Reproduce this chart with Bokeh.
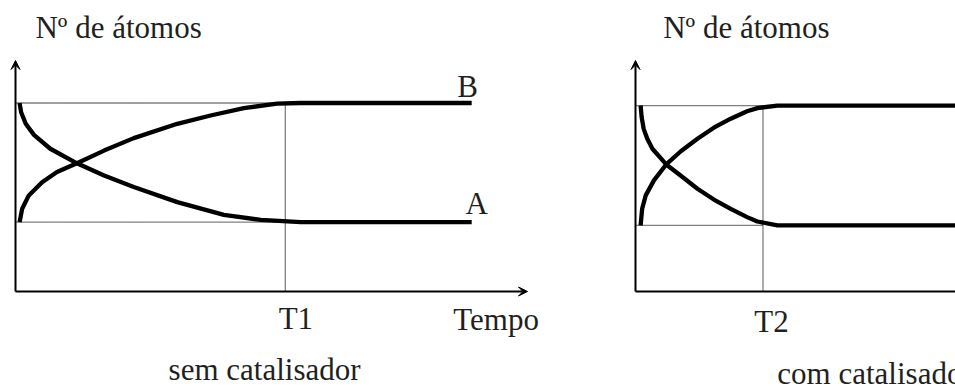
from bokeh.plotting import figure
from bokeh.layouts import row
from bokeh.models import Range1d, Arrow, VeeHead, Label
from bokeh.embed import file_html
from bokeh.resources import INLINE

# ---------------- data ----------------
# left panel: "sem catalisador"
tB1 = [0.8, 1.3, 2.6, 5.2, 8.1, 12.0, 17.3, 23.1, 31.6, 38.1, 44.6, 51.1, 55.7, 89.1]
nB1 = [30.0, 35.8, 41.6, 47.3, 51.7, 55.5, 61.0, 66.4, 72.6, 76.2, 79.4, 81.3, 81.6, 81.6]
tA1 = [0.8, 1.1, 2.0, 3.6, 6.8, 12.0, 17.3, 23.1, 31.6, 40.7, 47.9, 55.7, 89.1]
nA1 = [81.6, 77.6, 72.6, 67.8, 61.8, 55.5, 50.2, 45.2, 38.7, 33.2, 31.0, 30.0, 30.0]
T1 = 52.7
hi1, lo1 = 81.6, 30.0

# right panel: "com catalisador"
tB2 = [1.0, 1.3, 2.0, 3.6, 6.0, 8.8, 12.1, 15.3, 18.6, 21.8, 23.8, 27.7, 94.0]
nB2 = [28.6, 35.8, 41.6, 48.1, 55.0, 60.6, 66.1, 70.9, 74.8, 78.0, 79.4, 80.5, 80.5]
tA2 = [1.0, 1.2, 1.6, 2.3, 3.3, 6.0, 8.8, 12.1, 15.3, 18.6, 21.8, 23.8, 27.7, 94.0]
nA2 = [80.5, 75.5, 70.4, 66.1, 61.8, 55.0, 50.2, 44.5, 39.8, 35.8, 32.2, 30.3, 28.6, 28.6]
T2 = 24.9
hi2, lo2 = 80.5, 28.6

x_axis_end1 = 100.0
x_axis_end2 = 94.0
y_axis_end = 100.0

tick_labels1 = ["T1", "Tempo"]
tick_labels2 = ["T2"]
y_title = "Nº de átomos"
captions = ["sem catalisador", "com catalisador"]
curve_names = ["B", "A"]

# ---------------- style ----------------
FONT = "Liberation Serif"
FS = "31px"
TXT = "#231f20"
INK = "#000000"
H = 387
PX_X = 5.12   # px per time unit
PX_Y = 2.31   # px per atom unit
W1, W2 = 608, 347
X0_PX_1 = 15          # x=0 position inside the left figure
X0_PX_2 = 635 - W1    # x=0 position inside the right figure
Y0_PX = 291           # y=0 position from top of figure
DY = 3.9              # text baseline correction (data units)


def make_fig(w, x0px):
    p = figure(width=w, height=H, output_backend="svg", toolbar_location=None,
               x_range=Range1d(-x0px / PX_X, (w - x0px) / PX_X),
               y_range=Range1d(-(H - Y0_PX) / PX_Y, Y0_PX / PX_Y),
               x_axis_location=None, y_axis_location=None,
               min_border=0, outline_line_color=None, tools="")
    p.grid.visible = False
    p.background_fill_color = "white"
    p.border_fill_color = "white"
    return p


def lab(p, x, y, text, align="left"):
    p.add_layout(Label(x=x, y=y + DY, text=text, text_font=FONT, text_font_size=FS,
                       text_color=TXT, text_align=align, text_baseline="alphabetic"))


def panel(p, tB, nB, tA, nA, T, hi, lo, xend, arrow_x):
    # guide lines (dotted)
    p.segment(x0=[0, 0, T], y0=[hi, lo, 0], x1=[T, T, T], y1=[hi, lo, hi],
              line_color="#000000", line_width=1.3, line_dash="1 1")
    # axes
    p.add_layout(Arrow(end=VeeHead(size=9, fill_color=INK, line_color=INK, line_width=1),
                       x_start=0, y_start=0, x_end=0, y_end=y_axis_end,
                       line_color=INK, line_width=2))
    if arrow_x:
        p.add_layout(Arrow(end=VeeHead(size=9, fill_color=INK, line_color=INK, line_width=1),
                           x_start=0, y_start=0, x_end=xend, y_end=0,
                           line_color=INK, line_width=2))
    else:
        p.line([0, xend], [0, 0], line_color=INK, line_width=2)
    # curves
    p.line(tB, nB, line_color=INK, line_width=4.3, line_join="round", line_cap="butt")
    p.line(tA, nA, line_color=INK, line_width=4.3, line_join="round", line_cap="butt")


left = make_fig(W1, X0_PX_1)
panel(left, tB1, nB1, tA1, nA1, T1, hi1, lo1, x_axis_end1, True)
lab(left, 3.9, 110.4, y_title)
lab(left, 86.3, 84.8, curve_names[0])
lab(left, 87.9, 34.2, curve_names[1])
lab(left, 51.4, -15.6, tick_labels1[0])
lab(left, 85.5, -16.0, tick_labels1[1])
lab(left, 29.9, -37.7, captions[0])

right = make_fig(W2, X0_PX_2)
panel(right, tB2, nB2, tA2, nA2, T2, hi2, lo2, x_axis_end2, False)
lab(right, 5.4, 110.4, y_title)
lab(right, 23.2, -16.9, tick_labels2[0])
lab(right, 27.7, -39.4, captions[1])

layout = row(left, right, spacing=0)
open("out.html", "w").write(file_html(layout, INLINE))
